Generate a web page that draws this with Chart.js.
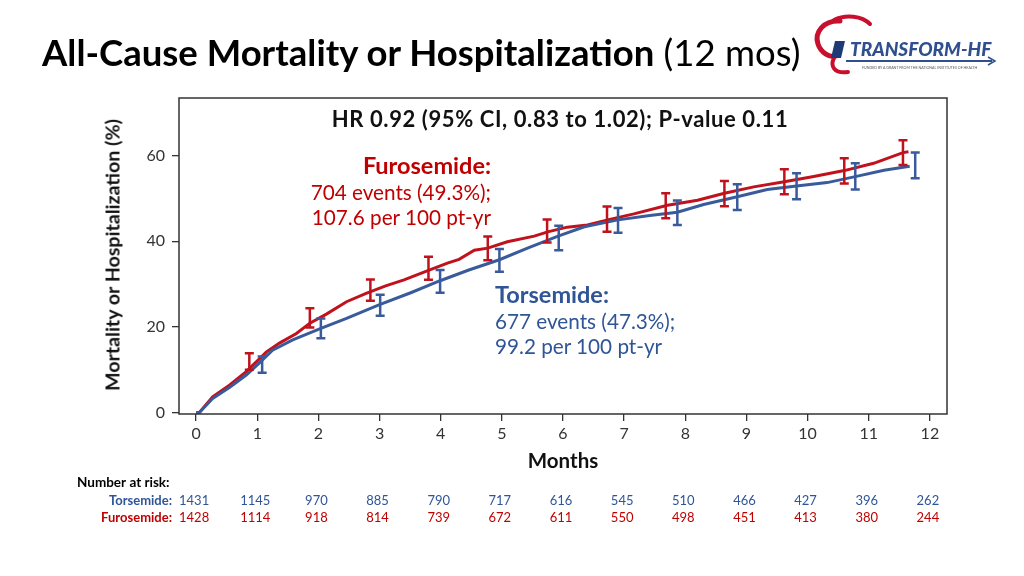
<!DOCTYPE html>
<html>
<head>
<meta charset="utf-8">
<script src="https://cdn.jsdelivr.net/npm/chart.js@4.4.1/dist/chart.umd.min.js"></script>
<style>
  html, body { margin: 0; padding: 0; background: #fff; }
  body { width: 1024px; height: 576px; position: relative; overflow: hidden; font-family: Lato, "Open Sans", sans-serif; }
  #chart { position: absolute; left: 0; top: 0; }
  .txt { position: absolute; white-space: nowrap; }
  .title { left: 42px; top: 31px; font-size: 36.5px; line-height: 42px; color: #000; }
  .title b { font-weight: 700; }
  .hr { left: 310px; top: 106px; width: 500px; text-align: center; font-size: 22px; letter-spacing: 0.6px; line-height: 26px; font-weight: 700; color: #111; }
  .furo { right: calc(1024px - 491px); text-align: right; color: #c00000; font-size: 20.7px; line-height: 25.5px; top: 153px; }
  .tors { left: 495px; color: #2f5597; font-size: 20.7px; line-height: 25.5px; top: 282px; }
  .furo b, .tors b { font-size: 23.5px; }
  .ytitle { left: 112px; top: 255px; transform: translate(-50%, -50%) rotate(-90deg); font-size: 19.6px; font-weight: 700; color: #111; }
  .xtitle { left: 563px; top: 460px; transform: translate(-50%, -50%); font-size: 20.5px; font-weight: 700; color: #111; }
  #logo { position: absolute; left: 806px; top: 12px; }
</style>
</head>
<body>
<canvas id="chart" width="1024" height="576"></canvas>

<div class="txt title"><b>All-Cause Mortality or Hospitalization</b> (12 mos)</div>
<div class="txt hr">HR 0.92 (95% CI, 0.83 to 1.02); P-value 0.11</div>
<div class="txt furo"><b>Furosemide:</b><br>704 events (49.3%);<br>107.6 per 100 pt-yr</div>
<div class="txt tors"><b>Torsemide:</b><br>677 events (47.3%);<br>99.2 per 100 pt-yr</div>
<div class="txt ytitle">Mortality or Hospitalization (%)</div>
<div class="txt xtitle">Months</div>

<svg id="logo" width="200" height="66" viewBox="0 0 200 66">
  <path d="M34 9 C18 8, 8 20, 12 32 C15 41, 24 46, 30 44" fill="none" stroke="#c8102e" stroke-width="5" stroke-linecap="round"/>
  <path d="M28 8 C40 2, 56 4, 64 12" fill="none" stroke="#c8102e" stroke-width="4" stroke-linecap="round"/>
  <path d="M28 46 C24 54, 28 62, 42 60" fill="none" stroke="#c8102e" stroke-width="4" stroke-linecap="round"/>
  <path d="M29 29 L39 29 L35 46 L25 46 Z" fill="#1f3a75"/>
  <text x="44" y="44" font-family="Lato, sans-serif" font-size="19" font-weight="900" font-style="italic" fill="#2f4f8f">TRANSFORM-HF</text>
  <line x1="40" y1="49" x2="186" y2="49" stroke="#2f4f8f" stroke-width="2"/>
  <path d="M182 45 L189 49 L182 53" fill="none" stroke="#2f4f8f" stroke-width="1.5"/>
  <text x="56" y="57" font-family="Lato, sans-serif" font-size="3.6" fill="#555">FUNDED BY A GRANT FROM THE NATIONAL INSTITUTES OF HEALTH</text>
</svg>

<script>
// axis ticks
const monthTicks = [0, 1, 2, 3, 4, 5, 6, 7, 8, 9, 10, 11, 12];
const pctTicks = [0, 20, 40, 60];

// Kaplan-Meier curves (cumulative %)
const furoMonths = [0, 0.05, 0.27, 0.55, 0.82, 0.93, 1.15, 1.37, 1.64, 1.86, 2.13, 2.46, 2.79, 3.1, 3.4, 3.8, 4.11, 4.3, 4.55, 4.77, 5.09, 5.53, 5.75, 6.07, 6.4, 6.73, 7.16, 7.71, 8.2, 8.64, 9.12, 9.62, 10.1, 10.6, 11.08, 11.56, 11.65];
const furoPct    = [0, 0, 3.7, 6.5, 9.6, 11.1, 14.2, 16.3, 18.5, 20.9, 23.0, 25.9, 27.9, 29.6, 31.0, 33.2, 34.9, 35.8, 37.9, 38.4, 39.9, 41.2, 42.2, 43.3, 43.8, 45.0, 46.4, 48.4, 49.6, 51.2, 52.7, 53.9, 55.1, 56.5, 58.2, 60.7, 60.9];

const torsMonths = [0, 0.05, 0.27, 0.55, 0.82, 1.04, 1.25, 1.58, 2.04, 2.46, 3.0, 3.51, 3.99, 4.46, 4.96, 5.42, 5.92, 6.35, 6.9, 7.42, 7.87, 8.3, 8.85, 9.34, 9.82, 10.32, 10.78, 11.25, 11.67];
const torsPct    = [0, 0, 3.3, 5.95, 8.8, 11.7, 14.6, 17.0, 19.7, 22.0, 25.2, 28.0, 30.8, 33.3, 35.7, 38.4, 41.2, 43.4, 45.0, 46.0, 46.8, 48.6, 50.4, 52.1, 52.9, 53.7, 55.1, 56.6, 57.5];

// 95% CI bars
const furoBarMonths = [0.87, 1.86, 2.85, 3.8, 4.77, 5.74, 6.72, 7.68, 8.64, 9.62, 10.6, 11.56];
const furoBarLow    = [10.0, 19.9, 26.1, 31.0, 35.6, 39.7, 42.2, 45.4, 48.2, 51.0, 53.5, 57.8];
const furoBarHigh   = [13.9, 24.4, 31.1, 36.4, 41.1, 45.1, 48.1, 51.2, 54.1, 56.8, 59.4, 63.6];

const torsBarMonths = [1.08, 2.04, 3.01, 3.99, 4.96, 5.93, 6.9, 7.87, 8.85, 9.82, 10.78, 11.76];
const torsBarLow    = [9.3, 17.4, 22.6, 28.0, 32.9, 37.9, 42.0, 43.8, 47.3, 49.8, 52.1, 54.7];
const torsBarHigh   = [13.1, 22.0, 27.5, 33.3, 38.2, 43.6, 47.8, 49.5, 53.3, 55.9, 58.2, 60.7];

// number at risk
const riskTorsemide  = [1431, 1145, 970, 885, 790, 717, 616, 545, 510, 466, 427, 396, 262];
const riskFurosemide = [1428, 1114, 918, 814, 739, 672, 611, 550, 498, 451, 413, 380, 244];

const RED = "#c0121c";
const BLUE = "#3a5b9b";
const RED_TXT = "#c00000";
const BLUE_TXT = "#2f5597";

const toPoints = (xs, ys) => xs.map((x, i) => ({ x: x, y: ys[i] }));

// error bars + frame
const extrasPlugin = {
    id: "extras",
    afterDatasetsDraw(chart) {
        const { ctx, chartArea, scales } = chart;
        const drawBars = (xs, lo, hi, color) => {
            ctx.save();
            ctx.strokeStyle = color;
            ctx.lineWidth = 2.5;
            xs.forEach((m, i) => {
                const px = scales.x.getPixelForValue(m);
                const y1 = scales.y.getPixelForValue(lo[i]);
                const y2 = scales.y.getPixelForValue(hi[i]);
                ctx.beginPath();
                ctx.moveTo(px, y1); ctx.lineTo(px, y2);
                ctx.moveTo(px - 4.5, y1); ctx.lineTo(px + 4.5, y1);
                ctx.moveTo(px - 4.5, y2); ctx.lineTo(px + 4.5, y2);
                ctx.stroke();
            });
            ctx.restore();
        };
        drawBars(torsBarMonths, torsBarLow, torsBarHigh, BLUE);
        drawBars(furoBarMonths, furoBarLow, furoBarHigh, RED);

        ctx.save();
        ctx.strokeStyle = "#333";
        ctx.lineWidth = 1.5;
        ctx.strokeRect(chartArea.left, chartArea.top, chartArea.right - chartArea.left, chartArea.bottom - chartArea.top);
        ctx.restore();
    },
    afterDraw(chart) {
        const { ctx, scales } = chart;
        ctx.save();
        ctx.textBaseline = "middle";
        ctx.font = "bold 13.5px Lato";
        ctx.fillStyle = "#000";
        ctx.textAlign = "left";
        ctx.fillText("Number at risk:", 77, 483);

        ctx.font = "bold 13px Lato";
        ctx.textAlign = "right";
        ctx.fillStyle = BLUE_TXT;
        ctx.fillText("Torsemide:", 172, 501);
        ctx.fillStyle = RED_TXT;
        ctx.fillText("Furosemide:", 172, 518);

        ctx.font = "13px Lato";
        ctx.textAlign = "center";
        monthTicks.forEach((m, i) => {
            const px = scales.x.getPixelForValue(m) - 2;
            ctx.fillStyle = BLUE_TXT;
            ctx.fillText(String(riskTorsemide[i]), px, 501);
            ctx.fillStyle = RED_TXT;
            ctx.fillText(String(riskFurosemide[i]), px, 518);
        });
        ctx.restore();
    }
};

new Chart(document.getElementById("chart"), {
    type: "line",
    data: {
        datasets: [
            {
                label: "Torsemide",
                data: toPoints(torsMonths, torsPct),
                borderColor: BLUE,
                borderWidth: 3,
                pointRadius: 0,
                tension: 0
            },
            {
                label: "Furosemide",
                data: toPoints(furoMonths, furoPct),
                borderColor: RED,
                borderWidth: 3,
                pointRadius: 0,
                tension: 0
            }
        ]
    },
    options: {
        responsive: false,
        animation: false,
        layout: { padding: { left: 119, top: 98, right: 77, bottom: 92 } },
        plugins: { legend: { display: false }, tooltip: { enabled: false } },
        scales: {
            x: {
                type: "linear",
                min: -0.28,
                max: 12.28,
                afterBuildTicks: s => { s.ticks = monthTicks.map(v => ({ value: v })); },
                afterFit: s => { s.height = 70; },
                border: { display: false },
                grid: { drawOnChartArea: false, color: "#333", tickLength: 7, lineWidth: 1.3 },
                ticks: { color: "#333", font: { family: "Lato", size: 16 }, padding: 3, maxRotation: 0 }
            },
            y: {
                min: -0.3,
                max: 73.44,
                afterBuildTicks: s => { s.ticks = pctTicks.map(v => ({ value: v })); },
                afterFit: s => { s.width = 60; },
                border: { display: false },
                grid: { drawOnChartArea: false, color: "#333", tickLength: 7, lineWidth: 1.3 },
                ticks: { color: "#333", font: { family: "Lato", size: 16 }, padding: 7 }
            }
        }
    },
    plugins: [extrasPlugin]
});
</script>
</body>
</html>
